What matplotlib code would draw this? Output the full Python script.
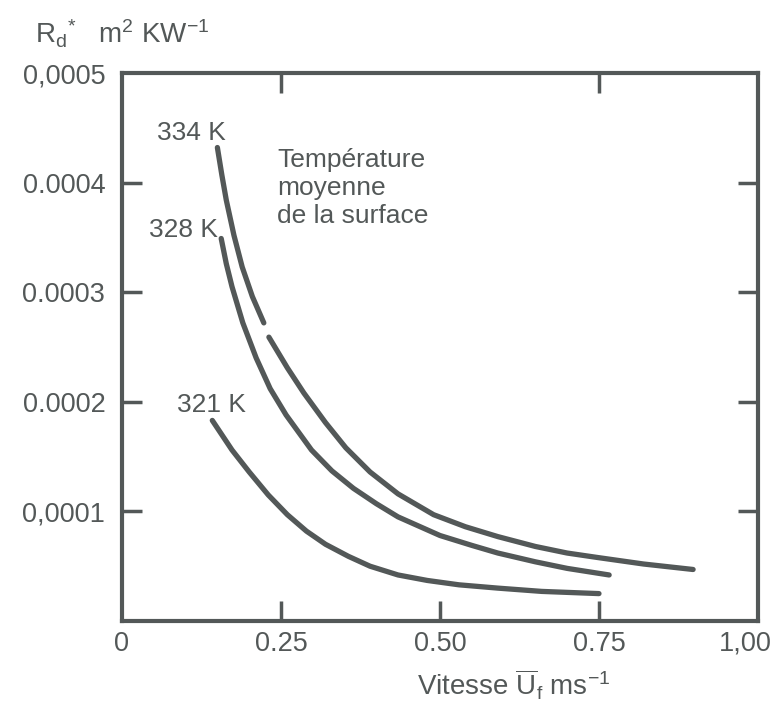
import matplotlib
matplotlib.use("Agg")
import matplotlib.pyplot as plt
from matplotlib.transforms import ScaledTranslation

# values (x in m/s, y in m2 K/W)
x_334a = [0.150, 0.157, 0.164, 0.176, 0.189, 0.205, 0.223]
y_334a = [4.32e-4, 4.07e-4, 3.84e-4, 3.52e-4, 3.23e-4, 2.96e-4, 2.72e-4]
x_334b = [0.231, 0.260, 0.286, 0.320, 0.352, 0.390, 0.434, 0.490, 0.540, 0.591,
          0.650, 0.700, 0.747, 0.820, 0.898]
y_334b = [2.59e-4, 2.31e-4, 2.08e-4, 1.81e-4, 1.58e-4, 1.36e-4, 1.16e-4, 0.97e-4,
          0.86e-4, 0.77e-4, 0.68e-4, 0.62e-4, 0.58e-4, 0.52e-4, 0.47e-4]

x_328 = [0.156, 0.164, 0.173, 0.190, 0.211, 0.233, 0.258, 0.298, 0.330, 0.364,
         0.400, 0.434, 0.500, 0.550, 0.591, 0.650, 0.700, 0.766]
y_328 = [3.49e-4, 3.26e-4, 3.05e-4, 2.72e-4, 2.40e-4, 2.12e-4, 1.88e-4, 1.56e-4,
         1.37e-4, 1.21e-4, 1.07e-4, 0.95e-4, 0.78e-4, 0.69e-4, 0.62e-4, 0.54e-4,
         0.48e-4, 0.42e-4]

x_321 = [0.142, 0.173, 0.200, 0.230, 0.260, 0.290, 0.320, 0.356, 0.390, 0.434,
         0.480, 0.530, 0.591, 0.660, 0.750]
y_321 = [1.83e-4, 1.56e-4, 1.36e-4, 1.15e-4, 0.97e-4, 0.82e-4, 0.70e-4, 0.59e-4,
         0.50e-4, 0.42e-4, 0.37e-4, 0.33e-4, 0.30e-4, 0.27e-4, 0.25e-4]

xticks = [0, 0.25, 0.50, 0.75, 1.00]
xtick_labels = ["0", "0.25", "0.50", "0.75", "1,00"]
yticks = [0.0001, 0.0002, 0.0003, 0.0004, 0.0005]
ytick_labels = ["0,0001", "0.0002", "0.0003", "0.0004", "0,0005"]

curve_labels = ["334 K", "328 K", "321 K"]

ink = "#535858"
plt.rcParams["font.family"] = ["Liberation Sans", "DejaVu Sans"]
plt.rcParams["mathtext.fontset"] = "custom"
plt.rcParams["mathtext.rm"] = "Liberation Sans"
plt.rcParams["mathtext.it"] = "Liberation Sans"

fig = plt.figure(figsize=(7.79, 7.06), dpi=100)
ax = fig.add_axes([0.1566, 0.1204, 0.8164, 0.7762])

lw = 3.8
kw = dict(color=ink, lw=lw, solid_capstyle="round", solid_joinstyle="round")
ax.plot(x_334a, y_334a, **kw)
ax.plot(x_334b, y_334b, **kw)
ax.plot(x_328, y_328, **kw)
ax.plot(x_321, y_321, **kw)

ax.set_xlim(0, 1.0)
ax.set_ylim(0, 0.0005)

for s in ax.spines.values():
    s.set_color(ink)
    s.set_linewidth(3.0)

ax.set_xticks(xticks)
ax.set_xticklabels(xtick_labels)
ax.set_yticks(yticks)
ax.set_yticklabels(ytick_labels)
ax.tick_params(axis="both", direction="in", length=14.5, width=2.5, color=ink,
               labelcolor=ink, labelsize=19.5)
ax.tick_params(axis="x", pad=7)
ax.tick_params(axis="y", pad=12)

# last x label sits a little left of the frame corner
last = ax.get_xticklabels()[-1]
last.set_transform(last.get_transform() + ScaledTranslation(-9 / 72, 0, fig.dpi_scale_trans))

# hide the end ticks that sit on the frame
for t in [ax.xaxis.get_major_ticks()[0], ax.xaxis.get_major_ticks()[-1],
          ax.yaxis.get_major_ticks()[-1]]:
    t.tick1line.set_visible(False)

# inner ticks on top and right edges
ax_top = ax.secondary_xaxis("top")
ax_top.set_xticks([0.25, 0.75])
ax_top.tick_params(direction="in", length=14.5, width=2.5, color=ink, labeltop=False)
ax_top.spines["top"].set_visible(False)
ax_right = ax.secondary_yaxis("right")
ax_right.set_yticks([0.0001, 0.0002, 0.0003, 0.0004])
ax_right.tick_params(direction="in", length=14.5, width=2.5, color=ink, labelright=False)
ax_right.spines["right"].set_visible(False)

# curve labels
ax.text(0.109, 4.45e-4, curve_labels[0], color=ink, fontsize=19, ha="center", va="center")
ax.text(0.097, 3.57e-4, curve_labels[1], color=ink, fontsize=19, ha="center", va="center")
ax.text(0.141, 1.97e-4, curve_labels[2], color=ink, fontsize=19, ha="center", va="center")

ax.text(0.244, 3.95e-4, "Température\nmoyenne\nde la surface", color=ink, fontsize=19,
        ha="left", va="center", linespacing=1.2)

fig.text(0.045, 0.952, r"R$_\mathrm{d}$$^{*}$   m$^2$ KW$^{-1}$", color=ink, fontsize=20,
         ha="left", va="center")
fig.text(0.66, 0.03, r"Vitesse $\overline{\mathrm{U}}_\mathrm{f}$ ms$^{-1}$", color=ink,
         fontsize=20, ha="center", va="center")

fig.savefig("out.png", dpi=100)
